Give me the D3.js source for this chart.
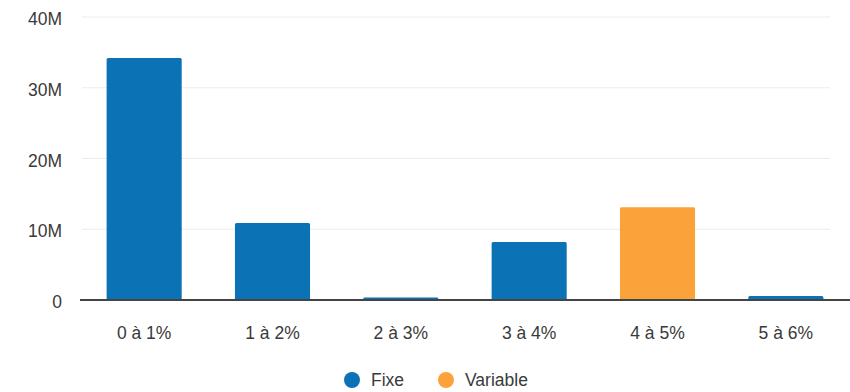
<!DOCTYPE html>
<html><head><meta charset="utf-8">
<script src="https://cdn.jsdelivr.net/npm/d3@7"></script>
<style>body{margin:0;background:#fff;}svg{display:block;font-family:"Liberation Sans",Arial,sans-serif;}</style>
</head><body>
<svg id="c" width="850" height="392"></svg>
<script>
const categories = ["0 à 1%","1 à 2%","2 à 3%","3 à 4%","4 à 5%","5 à 6%"];
const fixe = [34.2e6, 10.9e6, 0.35e6, 8.2e6, 0, 0.55e6];
const variable = [0, 0, 0, 0, 13.1e6, 0];
const yTicks = [0, 10e6, 20e6, 30e6, 40e6];
const yTickLabels = ["0","10M","20M","30M","40M"];
const seriesNames = ["Fixe","Variable"];
const colors = ["#0b72b5","#fba33a"];
const FS = 17.5;

const svg = d3.select("#c");
const x = d3.scaleBand().domain(categories).range([80, 850]).paddingInner(0.415).paddingOuter(0.2075);
const y = d3.scaleLinear().domain([0, 40e6]).range([300, 17]);

// gridlines
svg.append("g").selectAll("line").data(yTicks.slice(1)).join("line")
  .attr("x1", 82).attr("x2", 830)
  .attr("y1", d => y(d)).attr("y2", d => y(d))
  .attr("stroke", "#ececec").attr("stroke-width", 1);

// y labels
svg.append("g").selectAll("text").data(yTicks).join("text")
  .attr("x", 62).attr("y", d => y(d) + 2).attr("dy", "0.35em")
  .attr("text-anchor", "end").attr("font-size", FS).attr("fill", "#3a3a3a")
  .text((d, i) => yTickLabels[i]);

// bars
[fixe, variable].forEach((arr, s) => {
  svg.append("g").selectAll("rect").data(arr.map((v, i) => ({v, c: categories[i]})).filter(d => d.v > 0)).join("rect")
    .attr("x", d => x(d.c)).attr("width", x.bandwidth())
    .attr("y", d => y(d.v)).attr("height", d => y(0) - y(d.v))
    .attr("rx", 1.5).attr("fill", colors[s]);
});

// baseline
svg.append("line").attr("x1", 80).attr("x2", 850).attr("y1", y(0)).attr("y2", y(0))
  .attr("stroke", "#444").attr("stroke-width", 2);

// x labels
svg.append("g").selectAll("text").data(categories).join("text")
  .attr("x", d => x(d) + x.bandwidth() / 2).attr("y", 333).attr("dy", "0.35em")
  .attr("text-anchor", "middle").attr("font-size", FS).attr("fill", "#3a3a3a")
  .text(d => d);

// legend
const legX = [352, 446];
const lg = svg.append("g").selectAll("g").data(seriesNames).join("g")
  .attr("transform", (d, i) => `translate(${legX[i]},380)`);
lg.append("circle").attr("r", 8).attr("fill", (d, i) => colors[i]);
lg.append("text").attr("x", 19).attr("dy", "0.35em").attr("font-size", FS).attr("fill", "#3a3a3a").text(d => d);
</script>
</body></html>
